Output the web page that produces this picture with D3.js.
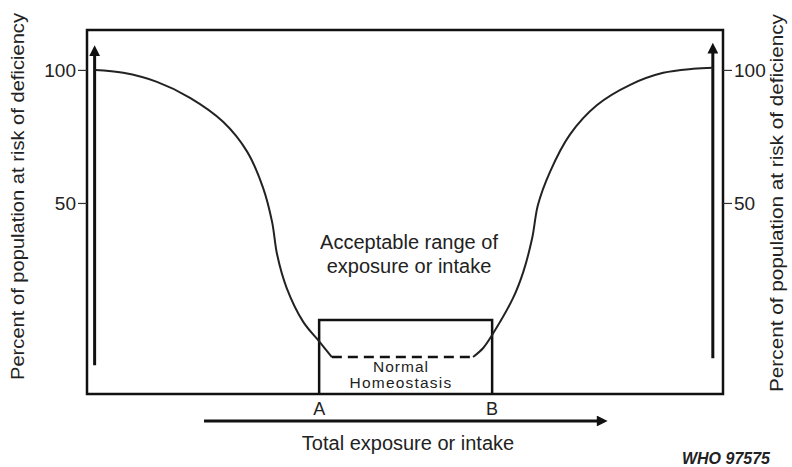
<!DOCTYPE html>
<html>
<head>
<meta charset="utf-8">
<script src="https://cdn.jsdelivr.net/npm/d3@7"></script>
<style>
  body { margin: 0; background: #fff; }
  svg { display: block; font-family: "Liberation Sans", Arial, sans-serif; }
  .tick text { font-size: 19px; fill: #222; }
</style>
</head>
<body>
<div id="chart"></div>
<script>
// curve: percent at risk vs. intake (0-100 arbitrary units)
var fallX = [1.3, 5.7, 11.0, 16.2, 21.4, 25.2, 27.7, 29.1, 29.9, 31.4, 34.0, 36.6, 38.5];
var fallY = [100, 98.9, 95.5, 89.5, 80.5, 69.2, 55.6, 42.9, 30.5, 18.0, 5.3, -2.3, -7.9];
var plateauX = [38.5, 60.7];
var plateauY = [-7.9, -7.9];
var riseX = [60.7, 62.3, 63.7, 67.0, 68.6, 70.0, 70.9, 72.8, 75.9, 80.2, 85.4, 90.6, 95.3, 98.4];
var riseY = [-7.9, -4.5, 0.4, 14.3, 24.1, 36.8, 49.2, 61.7, 75.6, 86.8, 94.4, 98.9, 100.4, 100.8];

var yTicks = [50, 100];
var rangeX = [36.5, 63.7];          // A and B
var rangeLabels = ['A', 'B'];
var boxTop = 6.0;
var yTitle = 'Percent of population at risk of deficiency';
var xTitle = 'Total exposure or intake';

var W = 792, H = 467;
var frame = { left: 87, top: 30, right: 723, bottom: 394 };

var svg = d3.select('#chart').append('svg')
    .attr('width', W)
    .attr('height', H);

var x = d3.scaleLinear().domain([0, 100]).range([frame.left, frame.right]);
var y = d3.scaleLinear().domain([-21.8, 115]).range([frame.bottom, frame.top]);

svg.append('defs').append('marker')
    .attr('id', 'head')
    .attr('viewBox', '0 0 10 10')
    .attr('refX', 2).attr('refY', 5)
    .attr('markerWidth', 4.5).attr('markerHeight', 3.6)
    .attr('orient', 'auto')
    .append('path')
    .attr('d', 'M0,0 L10,5 L0,10 Z')
    .attr('fill', '#111');

// frame
svg.append('rect')
    .attr('x', frame.left).attr('y', frame.top)
    .attr('width', frame.right - frame.left)
    .attr('height', frame.bottom - frame.top)
    .attr('fill', 'none')
    .attr('stroke', '#111')
    .attr('stroke-width', 2.5);

// ticks left and right
var axL = svg.append('g')
    .attr('transform', 'translate(' + frame.left + ',0)')
    .call(d3.axisLeft(y).tickValues(yTicks).tickSize(9).tickPadding(2));
var axR = svg.append('g')
    .attr('transform', 'translate(' + frame.right + ',0)')
    .call(d3.axisRight(y).tickValues(yTicks).tickSize(9).tickPadding(2));
[axL, axR].forEach(function (g) {
    g.select('.domain').remove();
    g.selectAll('.tick line').attr('stroke', '#333').attr('stroke-width', 1.2);
    g.selectAll('.tick text').attr('font-family', null).attr('font-size', null);
});

// vertical arrows inside the frame
svg.append('line')
    .attr('x1', x(1.2)).attr('x2', x(1.2))
    .attr('y1', y(-11)).attr('y2', y(106))
    .attr('stroke', '#111').attr('stroke-width', 3)
    .attr('marker-end', 'url(#head)');
svg.append('line')
    .attr('x1', x(98.4)).attr('x2', x(98.4))
    .attr('y1', y(-8.4)).attr('y2', y(107))
    .attr('stroke', '#111').attr('stroke-width', 3)
    .attr('marker-end', 'url(#head)');

// normal homeostasis box
svg.append('path')
    .attr('d', 'M' + x(rangeX[0]) + ',' + frame.bottom +
        'V' + y(boxTop) + 'H' + x(rangeX[1]) + 'V' + frame.bottom)
    .attr('fill', 'none')
    .attr('stroke', '#111')
    .attr('stroke-width', 2.5);

// the curve
var line = d3.line()
    .x(function (d) { return x(d[0]); })
    .y(function (d) { return y(d[1]); })
    .curve(d3.curveCatmullRom.alpha(0.5));

var fall = d3.zip(fallX, fallY);
var rise = d3.zip(riseX, riseY);
var plateau = d3.zip(plateauX, plateauY);

svg.append('path').datum(fall)
    .attr('d', line)
    .attr('fill', 'none').attr('stroke', '#222').attr('stroke-width', 2);
svg.append('path').datum(rise)
    .attr('d', line)
    .attr('fill', 'none').attr('stroke', '#222').attr('stroke-width', 2);
svg.append('path').datum(plateau)
    .attr('d', line)
    .attr('fill', 'none').attr('stroke', '#111').attr('stroke-width', 2.5)
    .attr('stroke-dasharray', '10,6');

// A / B labels
svg.selectAll('.ab')
    .data(rangeX)
    .enter().append('text')
    .attr('class', 'ab')
    .attr('x', function (d) { return x(d); })
    .attr('y', 415)
    .attr('text-anchor', 'middle')
    .attr('font-size', 18)
    .attr('fill', '#222')
    .text(function (d, i) { return rangeLabels[i]; });

// bottom arrow
svg.append('line')
    .attr('x1', x(18.4)).attr('x2', x(80.5))
    .attr('y1', 421).attr('y2', 421)
    .attr('stroke', '#111').attr('stroke-width', 3)
    .attr('marker-end', 'url(#head)');

svg.append('text')
    .attr('x', 408).attr('y', 450)
    .attr('text-anchor', 'middle')
    .attr('font-size', 20)
    .attr('fill', '#222')
    .text(xTitle);

// axis titles (narrow glyphs, long run like the scan)
svg.append('text')
    .attr('transform', 'translate(24,' + ((13 + 380) / 2) + ') rotate(-90)')
    .attr('text-anchor', 'middle')
    .attr('font-size', 17.5)
    .attr('textLength', 367)
    .attr('lengthAdjust', 'spacingAndGlyphs')
    .attr('fill', '#222')
    .text(yTitle);
svg.append('text')
    .attr('transform', 'translate(783,' + ((13 + 393) / 2) + ') rotate(-90)')
    .attr('text-anchor', 'middle')
    .attr('font-size', 17.5)
    .attr('textLength', 378)
    .attr('lengthAdjust', 'spacingAndGlyphs')
    .attr('fill', '#222')
    .text(yTitle);

// annotations
var acc = svg.append('text')
    .attr('text-anchor', 'middle')
    .attr('font-size', 20)
    .attr('fill', '#222');
acc.append('tspan').attr('x', 409).attr('y', 249).text('Acceptable range of');
acc.append('tspan').attr('x', 409).attr('y', 273).text('exposure or intake');

svg.append('text')
    .attr('x', 401).attr('y', 372)
    .attr('text-anchor', 'middle')
    .attr('font-size', 15.5)
    .attr('letter-spacing', 1)
    .attr('fill', '#222')
    .text('Normal');
svg.append('text')
    .attr('x', 401).attr('y', 388)
    .attr('text-anchor', 'middle')
    .attr('font-size', 15.5)
    .attr('letter-spacing', 1.2)
    .attr('fill', '#222')
    .text('Homeostasis');

svg.append('text')
    .attr('x', 770).attr('y', 464)
    .attr('text-anchor', 'end')
    .attr('font-size', 16)
    .attr('font-style', 'italic')
    .attr('font-weight', 'bold')
    .attr('fill', '#222')
    .text('WHO 97575');
</script>
</body>
</html>
